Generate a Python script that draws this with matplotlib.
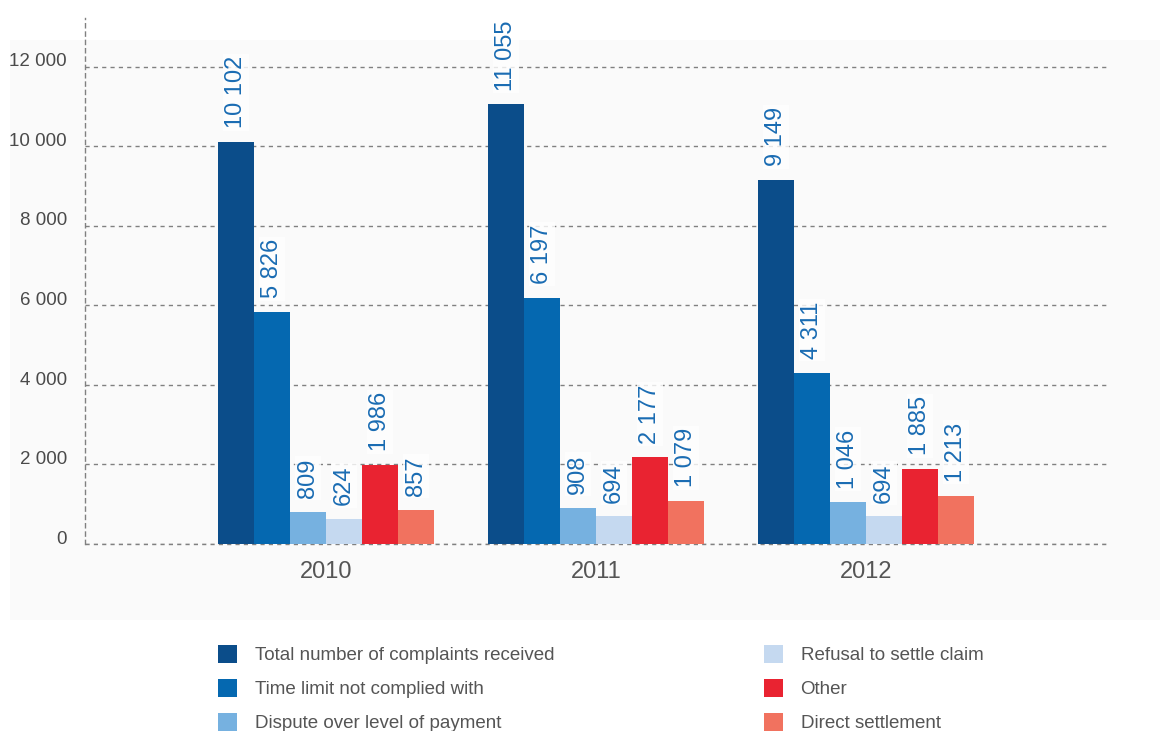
import matplotlib
matplotlib.use("Agg")
import matplotlib.pyplot as plt
import matplotlib.transforms as mtransforms
from matplotlib.patches import Rectangle, Patch
import numpy as np

plt.rcParams['font.family'] = ['Liberation Sans', 'DejaVu Sans']

years = ["2010", "2011", "2012"]
series_names = [
    "Total number of complaints received",
    "Time limit not complied with",
    "Dispute over level of payment",
    "Refusal to settle claim",
    "Other",
    "Direct settlement",
]
total_received = [10102, 11055, 9149]
time_limit = [5826, 6197, 4311]
dispute_payment = [809, 908, 1046]
refusal = [624, 694, 694]
other = [1986, 2177, 1885]
direct_settlement = [857, 1079, 1213]
colors = ["#0b4d8a", "#0568b0", "#76b1e0", "#c5d9f0", "#e92331", "#f1725f"]
yticks = [0, 2000, 4000, 6000, 8000, 10000, 12000]
ytick_labels = ["0", "2 000", "4 000", "6 000", "8 000", "10 000", "12 000"]

series = [total_received, time_limit, dispute_payment, refusal, other, direct_settlement]

W, H = 1170, 731
fig = plt.figure(figsize=(W / 100, H / 100), dpi=100, facecolor="white")

# faint panel behind the chart
fig.patches.append(Rectangle((10 / W, 1 - 620 / H), 1150 / W, 580 / H,
                             transform=fig.transFigure, facecolor="#fafafa",
                             edgecolor="none", zorder=-10))

ax = fig.add_axes([85 / W, 1 - 544 / H, (1108 - 85) / W, (544 - 18) / H])
ax.set_facecolor("none")

x = np.arange(len(years))
bw = 0.8 / 6
handles = []
for i, (vals, col, name) in enumerate(zip(series, colors, series_names)):
    pos = x - 0.4 + bw * (i + 0.5)
    ax.bar(pos, vals, width=bw, color=col, zorder=3, label=name)
    handles.append(Patch(facecolor=col, label=name))
    for xp, v in zip(pos, vals):
        txt = f"{v:,}".replace(",", " ")
        ax.annotate(txt, (xp, v), xytext=(0, 10), textcoords="offset points",
                    rotation=90, ha="center", va="bottom", fontsize=17,
                    color="#1a6cb3", zorder=4,
                    bbox=dict(boxstyle="square,pad=0.1", facecolor="white",
                              edgecolor="none", alpha=0.8))

ax.set_xlim(-0.8926, 2.896)
ax.set_ylim(0, 13230)
ax.set_yticks(yticks)
ax.set_yticklabels(ytick_labels, fontsize=13.5, color="#4a4a4a")
ax.tick_params(axis="y", length=0, pad=13)
offset = mtransforms.ScaledTranslation(0, 5 / 72, fig.dpi_scale_trans)
for lbl in ax.get_yticklabels():
    lbl.set_transform(lbl.get_transform() + offset)

ax.set_xticks(x)
ax.set_xticklabels(years, fontsize=17, color="#555555")
ax.tick_params(axis="x", length=0, pad=12)

grid_style = dict(linestyle=(0, (3, 3)), color="#808080", linewidth=1.0)
ax.set_axisbelow(True)
ax.yaxis.grid(True, **grid_style)
ax.xaxis.grid(False)
ax.axhline(0, clip_on=False, zorder=2, **grid_style)
for s in ["top", "right", "bottom"]:
    ax.spines[s].set_visible(False)
ax.spines["left"].set_linestyle((0, (3, 3)))
ax.spines["left"].set_color("#808080")
ax.spines["left"].set_linewidth(1.0)

leg_kw = dict(loc="upper left", frameon=False, fontsize=13.5, labelcolor="#555555",
              handlelength=1.0, handleheight=1.1, handletextpad=0.95,
              labelspacing=0.78, borderpad=0, borderaxespad=0)
fig.legend(handles=handles[:3], bbox_to_anchor=(218 / W, 1 - 645 / H), **leg_kw)
fig.legend(handles=handles[3:], bbox_to_anchor=(764 / W, 1 - 645 / H), **leg_kw)

fig.savefig("out.png", dpi=100, facecolor="white")
